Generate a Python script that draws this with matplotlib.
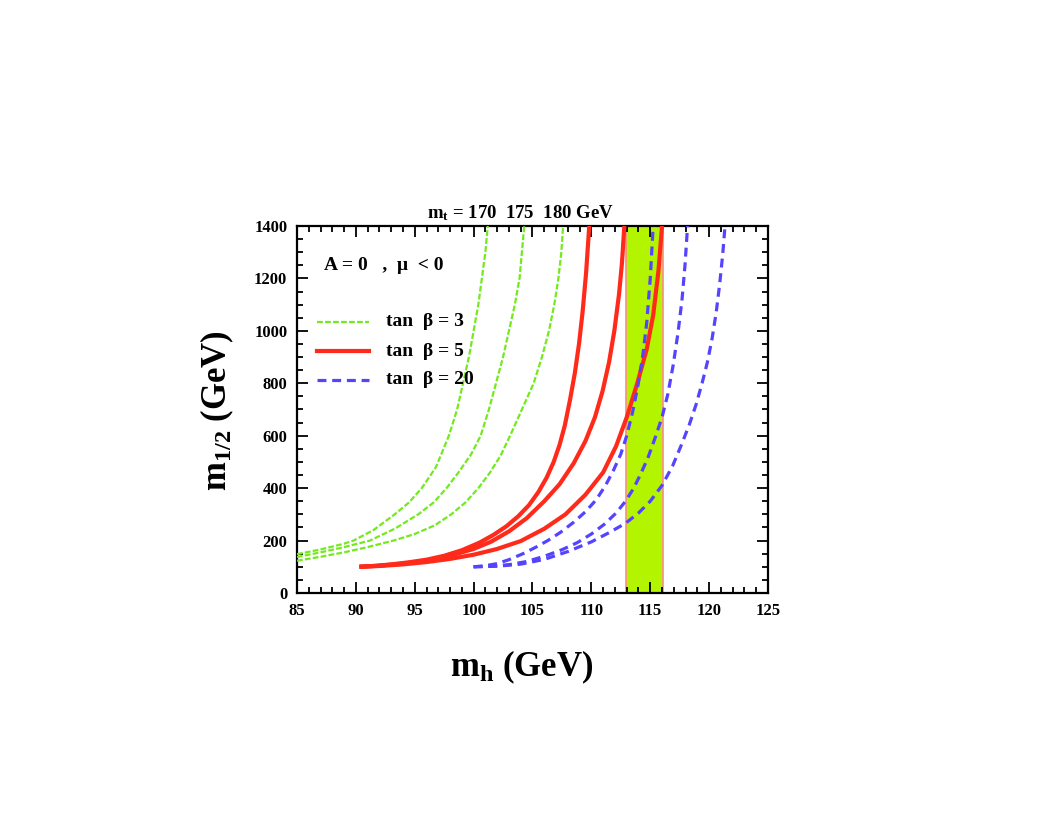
import numpy as np
import matplotlib
matplotlib.use('Agg')
import matplotlib.pyplot as plt
from matplotlib.ticker import MultipleLocator

plt.rcParams['font.family'] = ['Liberation Serif', 'DejaVu Serif']
plt.rcParams['font.weight'] = 'bold'
plt.rcParams['mathtext.fontset'] = 'custom'
plt.rcParams['mathtext.rm'] = 'Liberation Serif:bold'
plt.rcParams['mathtext.it'] = 'Liberation Serif:bold'
plt.rcParams['mathtext.bf'] = 'Liberation Serif:bold'

# tan beta = 3, m_t = 170, 175, 180 GeV
g170_mh = [85, 87, 89, 89.8, 91.5, 93.3, 94.5, 95.6, 96.8, 97.9, 98.6, 99.1, 99.6, 100.0, 100.4, 100.7, 101.0, 101.2]
g170_m = [148, 166, 188, 200, 240, 300, 345, 400, 480, 600, 700, 800, 900, 1000, 1100, 1200, 1300, 1400]
g175_mh = [85, 87, 89, 91.2, 93.3, 95.3, 96.6, 97.7, 98.8, 99.8, 100.6, 101.3, 101.9, 102.5, 103.0, 103.5, 103.9, 104.1, 104.3]
g175_m = [137, 155, 175, 200, 245, 300, 345, 400, 465, 530, 600, 700, 800, 900, 1000, 1100, 1200, 1300, 1400]
g180_mh = [85, 87, 89, 91, 93.2, 95, 96.7, 98.1, 99.3, 100.4, 101.4, 102.3, 103.1, 103.8, 104.5, 105.1, 105.8, 106.4, 106.85, 107.2, 107.45, 107.6]
g180_m = [123, 138, 155, 175, 200, 225, 258, 300, 345, 400, 460, 525, 600, 670, 740, 800, 900, 1000, 1100, 1200, 1300, 1400]

# tan beta = 5
r170_mh = [90.3, 91.5, 93, 94.5, 96, 97.5, 99, 100.5, 101.7, 102.8, 103.8, 104.7, 105.5, 106.2, 106.8, 107.3, 107.75, 108.2, 108.6, 108.95, 109.25, 109.55, 109.82]
r170_m = [100, 103, 109, 117, 127, 142, 163, 192, 222, 255, 293, 335, 385, 440, 500, 565, 640, 740, 840, 950, 1070, 1220, 1400]
r175_mh = [90.3, 92, 94, 96, 98, 100, 101.5, 103, 104.5, 106, 107.3, 108.5, 109.5, 110.3, 110.95, 111.5, 111.95, 112.35, 112.6, 112.8]
r175_m = [100, 104, 112, 124, 142, 168, 196, 235, 285, 350, 415, 495, 580, 670, 770, 880, 1000, 1140, 1260, 1400]
r180_mh = [90.3, 92, 94, 96, 98, 100, 102, 104, 106, 107.8, 109.5, 111, 112.1, 113.0, 113.9, 114.7, 115.25, 115.7, 116.0]
r180_m = [100, 103, 109, 118, 130, 146, 168, 198, 245, 300, 375, 460, 560, 670, 800, 930, 1060, 1230, 1400]

# tan beta = 20
b170_mh = [100, 101, 102, 103, 104.2, 105.3, 106.3, 107.4, 108.5, 109.5, 110.4, 111.2, 111.9, 112.5, 113.0, 113.5, 113.95, 114.35, 114.7, 115.0, 115.25]
b170_m = [100, 104, 112, 127, 150, 175, 200, 232, 270, 310, 355, 410, 470, 530, 600, 690, 790, 900, 1030, 1200, 1400]
b175_mh = [100, 101.5, 103, 104.5, 106, 107.5, 108.8, 110.0, 111.1, 112.1, 112.9, 113.6, 114.2, 114.8, 115.4, 116.0, 116.5, 116.95, 117.35, 117.7, 117.95, 118.17]
b175_m = [100, 102, 108, 120, 140, 165, 192, 225, 262, 305, 350, 400, 455, 515, 590, 670, 760, 870, 990, 1120, 1250, 1400]
b180_mh = [100, 102, 104, 106, 108, 110, 111.5, 112.9, 114.0, 115.0, 116.0, 116.9, 117.6, 118.3, 118.9, 119.4, 119.85, 120.25, 120.6, 120.9, 121.15, 121.35]
b180_m = [100, 102, 110, 128, 158, 195, 230, 266, 305, 350, 410, 485, 560, 640, 720, 800, 880, 970, 1070, 1180, 1290, 1400]

band = (112.95, 116.05)

fig = plt.figure(figsize=(10.58, 8.17), dpi=100)
ax = fig.add_axes([0.2807, 0.2742, 0.4452, 0.4492])

ax.axvspan(band[0], band[1], facecolor='#b3f500', edgecolor='#ff8a8a', lw=1.2, zorder=1)

green = '#72ea1e'
red = '#ff2a1a'
blue = '#5544ff'
gdash = (0, (2.6, 1.0))
bdash = (0, (2.8, 1.8))

for mh, m in [(g170_mh, g170_m), (g175_mh, g175_m), (g180_mh, g180_m)]:
    ax.plot(mh, m, color=green, lw=1.6, ls=gdash, zorder=3)
for mh, m in [(r170_mh, r170_m), (r175_mh, r175_m), (r180_mh, r180_m)]:
    ax.plot(mh, m, color=red, lw=3.0, zorder=3, solid_capstyle='butt', solid_joinstyle='round')
for mh, m in [(b170_mh, b170_m), (b175_mh, b175_m), (b180_mh, b180_m)]:
    ax.plot(mh, m, color=blue, lw=2.3, ls=bdash, zorder=3)

ax.set_xlim(85, 125)
ax.set_ylim(0, 1400)
ax.xaxis.set_major_locator(MultipleLocator(5))
ax.xaxis.set_minor_locator(MultipleLocator(1))
ax.yaxis.set_major_locator(MultipleLocator(200))
ax.yaxis.set_minor_locator(MultipleLocator(50))
ax.tick_params(which='both', direction='in', top=True, right=True, labelsize=12, width=1.3)
ax.tick_params(which='major', length=8, pad=7)
ax.tick_params(which='minor', length=4)
for lab in ax.get_xticklabels() + ax.get_yticklabels():
    lab.set_fontweight('bold')
for sp in ax.spines.values():
    sp.set_linewidth(1.6)

# legend drawn by hand as in the original
ax.plot([86.7, 91.1], [1034, 1034], color=green, lw=1.6, ls=gdash)
ax.plot([86.7, 91.1], [922, 922], color=red, lw=3.0)
ax.plot([86.7, 91.1], [813, 813], color=blue, lw=2.3, ls=bdash)
ax.text(92.6, 1034, 'tan  β = 3', fontsize=14, fontweight='bold', va='center')
ax.text(92.6, 922, 'tan  β = 5', fontsize=14, fontweight='bold', va='center')
ax.text(92.6, 813, 'tan  β = 20', fontsize=14, fontweight='bold', va='center')
ax.text(87.3, 1250, 'A = 0   ,  μ  < 0', fontsize=14, fontweight='bold', va='center')

ax.text(104.0, 1412, r'$\mathbf{m_t}$ = 170  175  180 GeV', fontsize=13.5, fontweight='bold',
        ha='center', va='bottom')

fig.text(0.493, 0.183, r'$\mathbf{m_h}$ (GeV)', fontsize=25, fontweight='bold', ha='center', va='center')
fig.text(0.205, 0.497, r'$\mathbf{m_{1/2}}$ (GeV)', fontsize=25, fontweight='bold', ha='center',
         va='center', rotation=90)

fig.savefig('out.png', dpi=100)
